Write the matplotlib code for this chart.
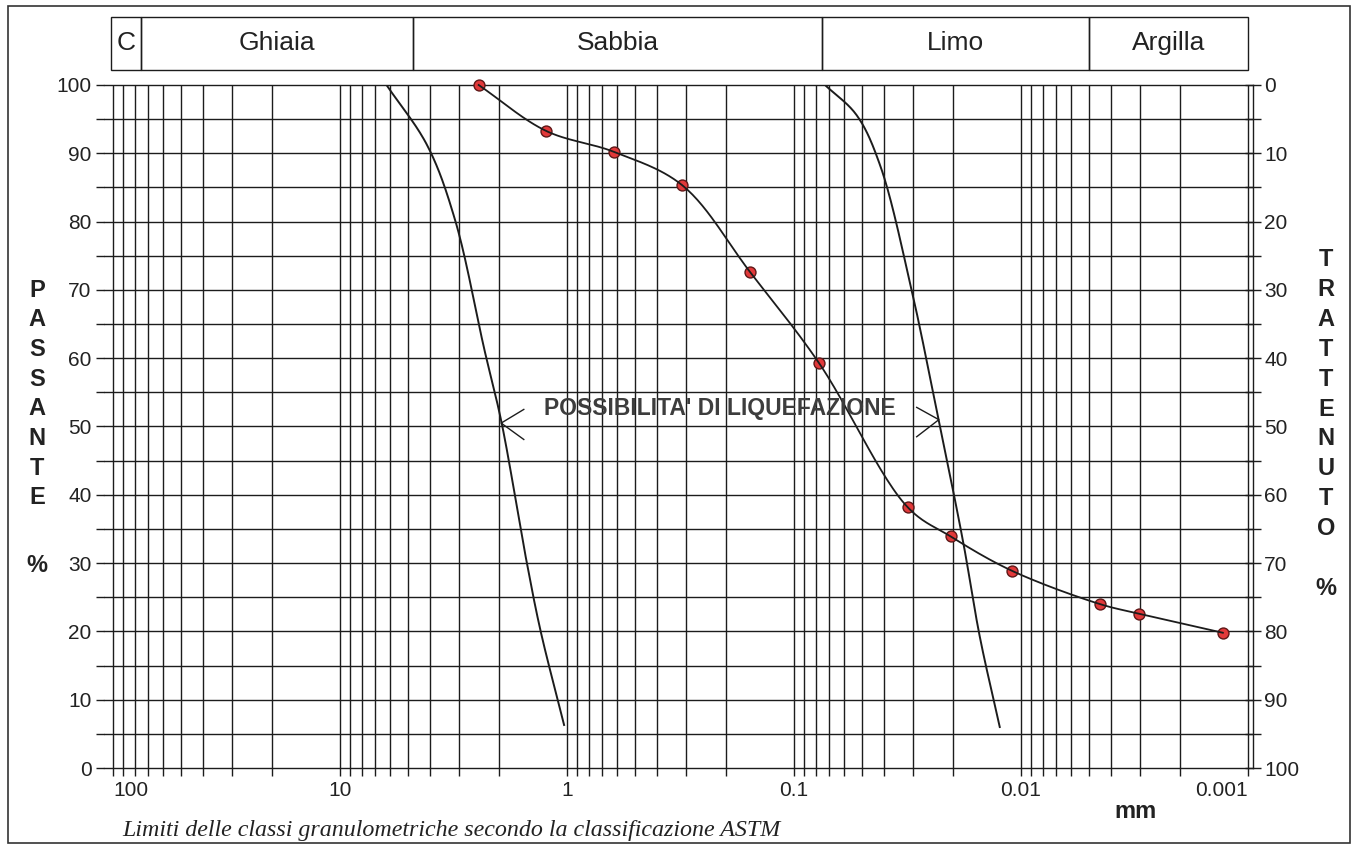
import numpy as np
import matplotlib.pyplot as plt
from matplotlib.ticker import FixedLocator, LogLocator, MultipleLocator, NullFormatter
from matplotlib.patches import Rectangle
from matplotlib.transforms import blended_transform_factory

plt.rcParams['font.family'] = ['Liberation Sans', 'DejaVu Sans']

# ============================================
# DATA
# ============================================
# grain size curve: diameter (mm) vs % passing
grain_mm = [2.45, 1.24, 0.62, 0.31, 0.156, 0.0776, 0.0316, 0.0204, 0.0110, 0.00449, 0.00302, 0.00129]
passante = [100.0, 93.3, 90.2, 85.3, 72.6, 59.3, 38.2, 33.9, 28.9, 24.0, 22.6, 19.8]

# liquefaction band limits
lim_sx_mm = [6.24, 4.12, 3.11, 2.31, 1.94, 1.52, 1.31, 1.03]
lim_sx_pct = [100.0, 91.1, 80.2, 61.2, 50.5, 30.9, 20.2, 6.3]
lim_dx_mm = [0.0730, 0.0530, 0.0418, 0.0308, 0.0231, 0.0180, 0.0152, 0.0124]
lim_dx_pct = [100.0, 95.6, 88.3, 71.0, 51.1, 33.2, 19.3, 6.0]

# chevrons of the "possibilita' di liquefazione" arrow
arrow_tip_mm = [1.95, 0.0230]
arrow_tip_pct = [50.5, 51.0]
arrow_arm_mm = [1.55, 0.0288]
arrow_arm_pct = [(52.5, 48.1), (52.8, 48.5)]

# ASTM classes
class_names = ['C', 'Ghiaia', 'Sabbia', 'Limo', 'Argilla']
class_edges_mm = [102, 75, 4.75, 0.075, 0.005, 0.001]

x_tick_vals = [100, 10, 1, 0.1, 0.01, 0.001]
x_tick_labels = ['100', '10', '1', '0.1', '0.01', '0.001']

INK = '#1c1c1c'
TXT = '#222222'
DOT_FILL = '#e2393a'
DOT_EDGE = '#5e1717'

# rough pixel size of one decade / one percent, used only to smooth evenly
DEC_PX = 227.0
PCT_PX = 6.83


def smooth(xs, ys, n=30, alpha=0.5):
    # centripetal Catmull-Rom through the points, in log10(x) / y space
    P = np.column_stack([np.log10(xs) * DEC_PX, np.asarray(ys) * PCT_PX])
    P = np.vstack([2 * P[0] - P[1], P, 2 * P[-1] - P[-2]])
    out = []
    for i in range(1, len(P) - 2):
        p0, p1, p2, p3 = P[i - 1], P[i], P[i + 1], P[i + 2]
        t0 = 0.0
        t1 = t0 + np.linalg.norm(p1 - p0) ** alpha
        t2 = t1 + np.linalg.norm(p2 - p1) ** alpha
        t3 = t2 + np.linalg.norm(p3 - p2) ** alpha
        t = np.linspace(t1, t2, n)[:, None]
        a1 = (t1 - t) / (t1 - t0) * p0 + (t - t0) / (t1 - t0) * p1
        a2 = (t2 - t) / (t2 - t1) * p1 + (t - t1) / (t2 - t1) * p2
        a3 = (t3 - t) / (t3 - t2) * p2 + (t - t2) / (t3 - t2) * p3
        b1 = (t2 - t) / (t2 - t0) * a1 + (t - t0) / (t2 - t0) * a2
        b2 = (t3 - t) / (t3 - t1) * a2 + (t - t1) / (t3 - t1) * a3
        c = (t2 - t) / (t2 - t1) * b1 + (t - t1) / (t2 - t1) * b2
        out.append(c if i == 1 else c[1:])
    out = np.vstack(out)
    return 10 ** (out[:, 0] / DEC_PX), out[:, 1] / PCT_PX


fig = plt.figure(figsize=(13.54, 8.47), dpi=100)
ax = fig.add_axes([104 / 1354, 79 / 847, 1149 / 1354, 683 / 847])

ax.set_xscale('log')
ax.set_xlim(109.6, 0.00095)
ax.set_ylim(0, 100)

# grid
ax.xaxis.set_major_locator(FixedLocator(x_tick_vals))
ax.xaxis.set_minor_locator(LogLocator(base=10, subs=np.arange(2, 10), numticks=30))
ax.xaxis.set_minor_formatter(NullFormatter())
ax.set_xticks(x_tick_vals, x_tick_labels)
ax.yaxis.set_major_locator(MultipleLocator(10))
ax.yaxis.set_minor_locator(MultipleLocator(5))
ax.grid(True, which='both', axis='both', color=INK, linewidth=1.0)
ax.set_axisbelow(True)
for gl in ax.yaxis.get_gridlines() + ax.yaxis.get_minorticklines():
    gl.set_clip_on(False)

for s in ['left', 'top', 'bottom', 'right']:
    ax.spines[s].set_visible(False)

ax.tick_params(axis='x', which='both', direction='out', length=6, width=1.0,
               color=INK, labelsize=15, labelcolor=TXT, pad=3)
ax.tick_params(axis='y', which='both', direction='out', length=6, width=1.0,
               color=INK, labelsize=15, labelcolor=TXT, pad=3)
xl = ax.get_xticklabels()
xl[0].set_ha('left')
xl[-1].set_ha('right')

# right axis: trattenuto = 100 - passante
sec = ax.secondary_yaxis('right', functions=(lambda v: 100 - v, lambda v: 100 - v))
sec.set_yticks(np.arange(0, 101, 10))
sec.yaxis.set_minor_locator(MultipleLocator(5))
sec.tick_params(axis='y', which='both', direction='inout', length=12, width=1.0,
                color=INK, labelsize=15, labelcolor=TXT, pad=2)
sec.spines['right'].set_linewidth(1.0)
sec.spines['right'].set_color(INK)

# liquefaction limits
for xs, ys in [(lim_sx_mm, lim_sx_pct), (lim_dx_mm, lim_dx_pct)]:
    sx, sy = smooth(xs, ys)
    ax.plot(sx, sy, color=INK, linewidth=1.4, zorder=3)

# grain size curve
cx, cy = smooth(grain_mm, passante)
ax.scatter(grain_mm, passante, s=62, color=DOT_FILL, edgecolor=DOT_EDGE,
           linewidth=1.0, zorder=4, clip_on=False)
ax.plot(cx, cy, color=INK, linewidth=1.3, zorder=5, clip_on=False)

# chevrons + label
for tx, ty, axm, (ya, yb) in zip(arrow_tip_mm, arrow_tip_pct, arrow_arm_mm, arrow_arm_pct):
    ax.plot([axm, tx, axm], [ya, ty, yb], color=INK, linewidth=1.0, zorder=5)
ax.text(0.212, 52.7, "POSSIBILITA' DI LIQUEFAZIONE", ha='center', va='center',
        fontsize=16.5, fontweight='bold', color='#3d3d3d', zorder=6)

# header with ASTM classes
trans = blended_transform_factory(ax.transData, ax.transAxes)
y0 = 1 + 15 / 683
hh = 53 / 683
for name, a, b in zip(class_names, class_edges_mm[:-1], class_edges_mm[1:]):
    ax.add_patch(Rectangle((a, y0), b - a, hh, transform=trans, fill=False,
                           edgecolor=INK, linewidth=1.0, clip_on=False))
    ax.text(np.sqrt(a * b), y0 + hh / 2, name, transform=trans, ha='center',
            va='center', fontsize=19, color=TXT, clip_on=False)

# stacked axis titles
for i, ch in enumerate('PASSANTE'):
    fig.text(37 / 1354, 1 - (290 + 29.7 * i) / 847, ch, ha='center', va='center',
             fontsize=17, fontweight='bold', color=TXT)
fig.text(37 / 1354, 1 - 565 / 847, '%', ha='center', va='center',
         fontsize=17, fontweight='bold', color=TXT)
for i, ch in enumerate('TRATTENUTO'):
    fig.text(1326 / 1354, 1 - (260 + 29.8 * i) / 847, ch, ha='center', va='center',
             fontsize=17, fontweight='bold', color=TXT)
fig.text(1326 / 1354, 1 - 588 / 847, '%', ha='center', va='center',
         fontsize=17, fontweight='bold', color=TXT)

fig.text(1135 / 1354, 1 - 811 / 847, 'mm', ha='center', va='center',
         fontsize=17, fontweight='bold', color=TXT)
fig.text(122 / 1354, 1 - 830 / 847,
         'Limiti delle classi granulometriche secondo la classificazione ASTM',
         ha='left', va='center', fontsize=17.3, style='italic',
         family=['Liberation Serif', 'DejaVu Serif'], color=TXT)

# page frame
fig.add_artist(Rectangle((8 / 1354, 4 / 847), 1342 / 1354, 837 / 847,
                         transform=fig.transFigure, fill=False,
                         edgecolor='#333333', linewidth=1.2))

fig.savefig('out.png', dpi=100, facecolor='white')
plt.close(fig)
